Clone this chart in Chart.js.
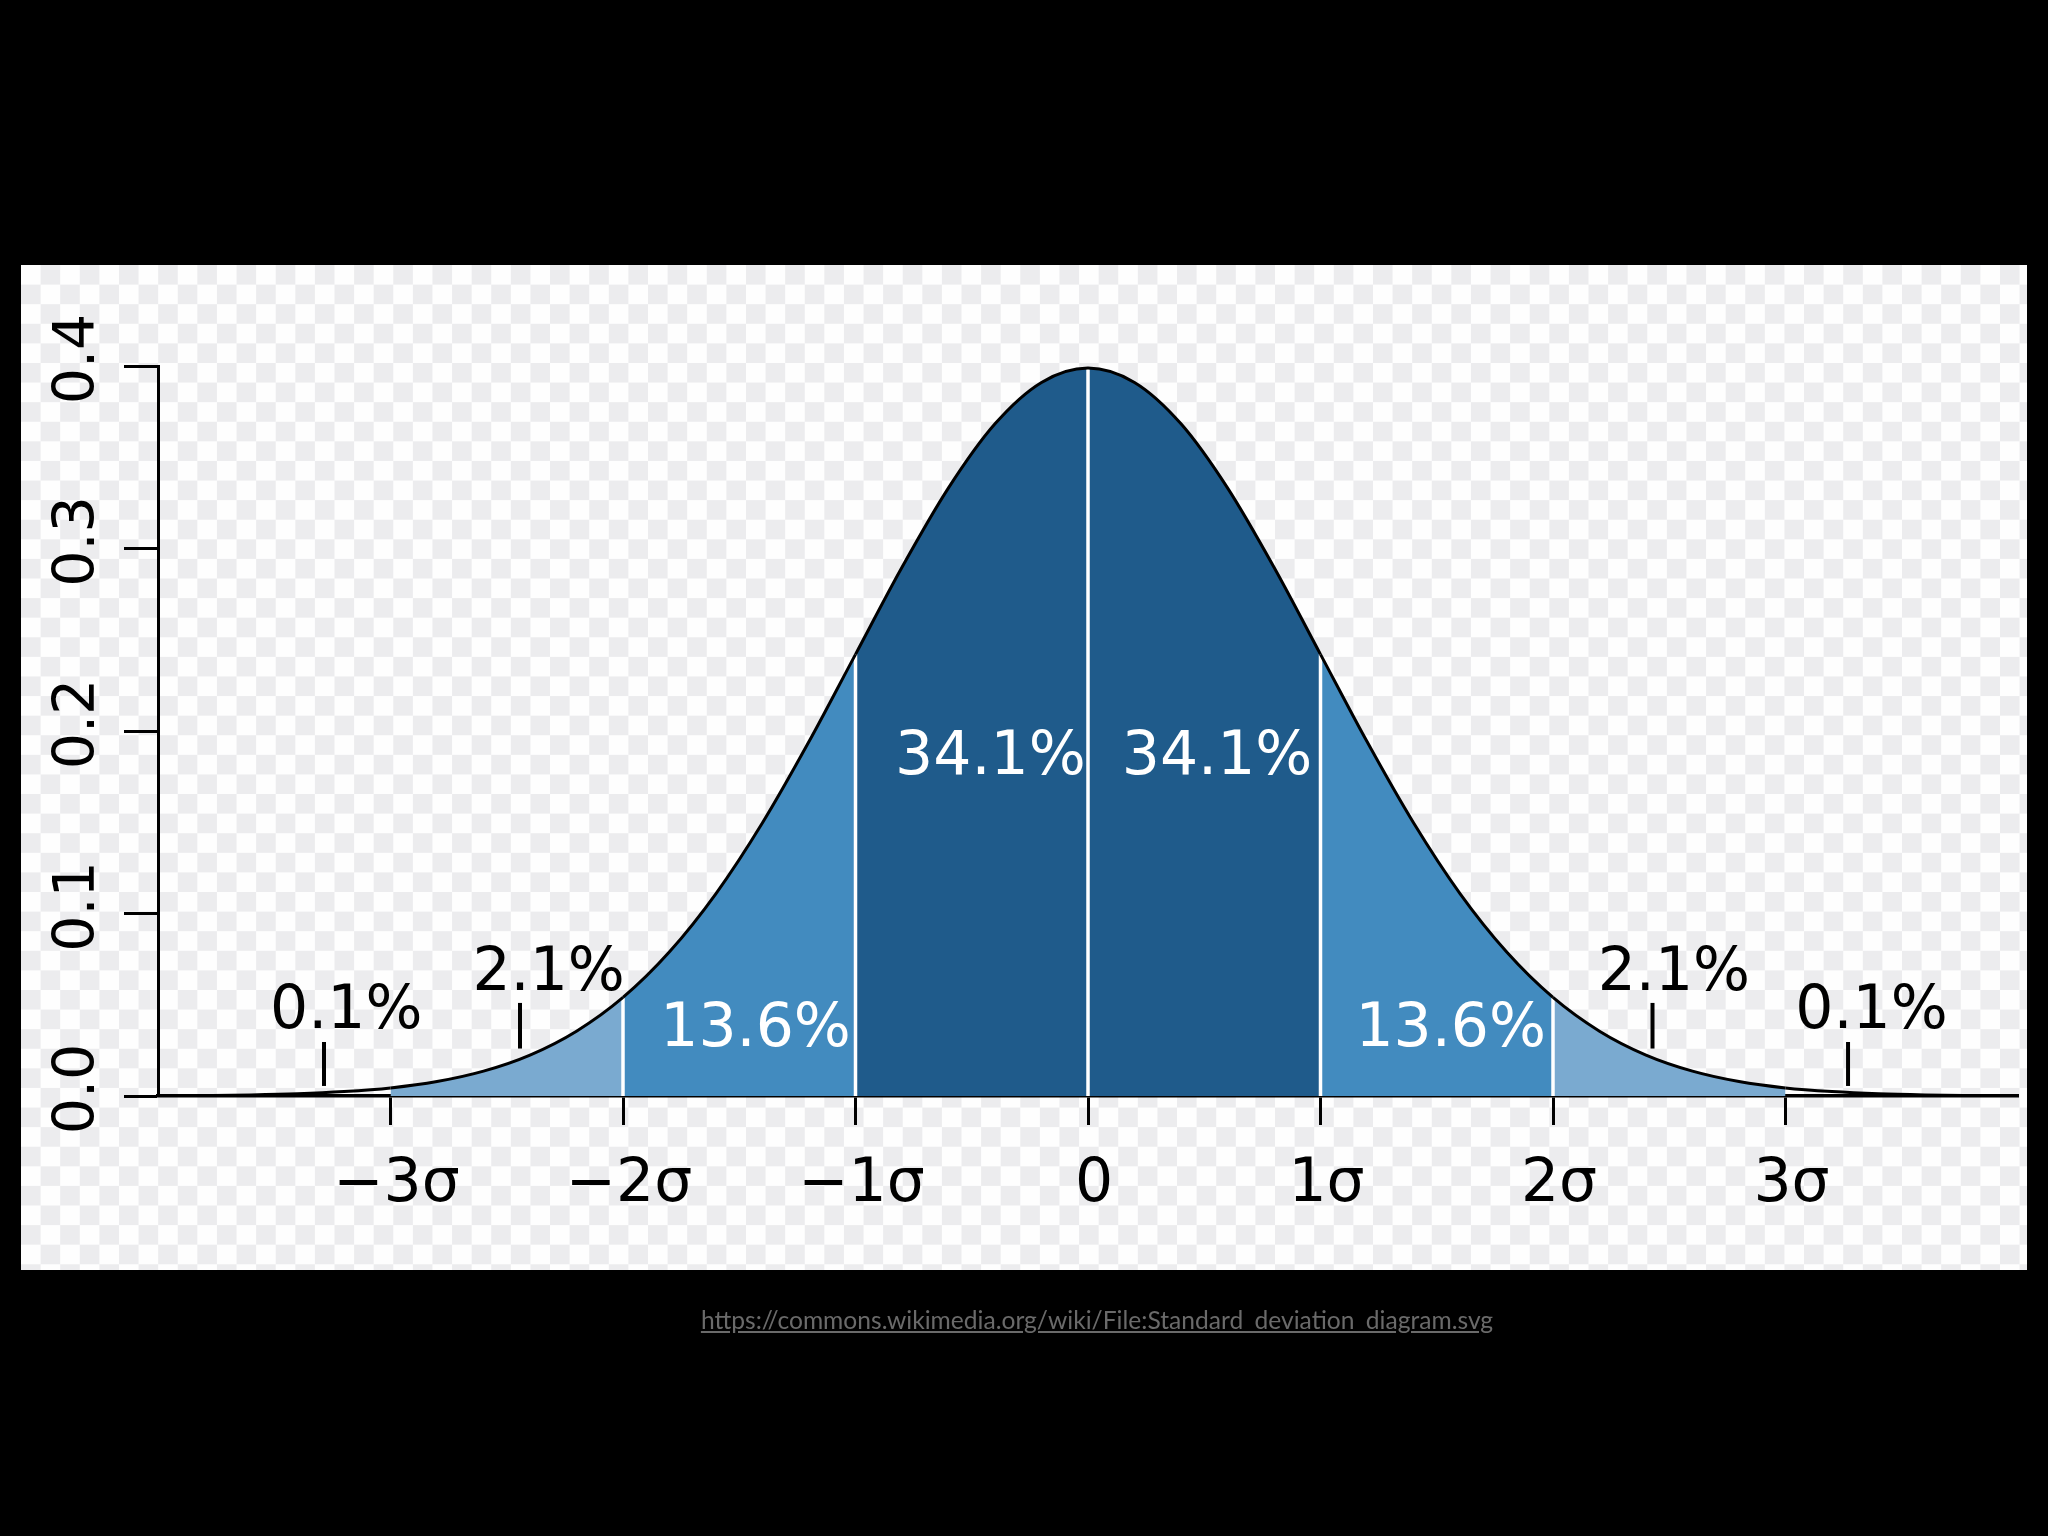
<!DOCTYPE html>
<html>
<head>
<meta charset="utf-8">
<script src="https://cdn.jsdelivr.net/npm/chart.js@4.4.1/dist/chart.umd.min.js"></script>
<style>
  html, body { margin: 0; padding: 0; background: #000; }
  body { width: 2048px; height: 1536px; position: relative; overflow: hidden; }
  #panel {
    position: absolute; left: 21px; top: 265px; width: 2006px; height: 1005px;
    background-color: #fefefe;
    background-image: repeating-conic-gradient(#ececee 0% 25%, #fefefe 0% 50%);
    background-size: 39.2px 39.2px;
  }
  #chart { position: absolute; left: 0; top: 0; }
  #src {
    position: absolute; left: 73px; width: 2048px; top: 1305px; text-align: center;
    font-family: Lato, "Open Sans", sans-serif; font-size: 24.6px; color: #6a6a6a;
    text-decoration: underline;
  }
</style>
</head>
<body>
<div id="panel"></div>
<canvas id="chart" width="2048" height="1536"></canvas>
<div id="src">https://commons.wikimedia.org/wiki/File:Standard_deviation_diagram.svg</div>
<script>
// curve (x in sigma units, density)
const xValues = [-4, -3.8, -3.6, -3.4, -3.2, -3, -2.8, -2.6, -2.4, -2.2, -2, -1.8, -1.6, -1.4, -1.2, -1,
  -0.8, -0.6, -0.4, -0.2, 0, 0.2, 0.4, 0.6, 0.8, 1, 1.2, 1.4, 1.6, 1.8, 2, 2.2, 2.4, 2.6, 2.8, 3,
  3.2, 3.4, 3.6, 3.8, 4];
const density = [0.0001, 0.0003, 0.0006, 0.0012, 0.0024, 0.0044, 0.0079, 0.0136, 0.0224, 0.0355, 0.054,
  0.079, 0.1109, 0.1497, 0.1942, 0.242, 0.2897, 0.3332, 0.3683, 0.391, 0.3989, 0.391, 0.3683, 0.3332,
  0.2897, 0.242, 0.1942, 0.1497, 0.1109, 0.079, 0.054, 0.0355, 0.0224, 0.0136, 0.0079, 0.0044, 0.0024,
  0.0012, 0.0006, 0.0003, 0.0001];

const bandEdges = [-2, -1, 0, 1, 2];

const xTickValues = [-3, -2, -1, 0, 1, 2, 3];
const xTickLabels = ['\u22123\u03c3', '\u22122\u03c3', '\u22121\u03c3', '0', '1\u03c3', '2\u03c3', '3\u03c3'];
const yTickValues = [0, 0.1, 0.2, 0.3, 0.4];
const yTickLabels = ['0.0', '0.1', '0.2', '0.3', '0.4'];

// percentage annotations: text, x centre, baseline
const pctLabels = ['0.1%', '2.1%', '13.6%', '34.1%', '34.1%', '13.6%', '2.1%', '0.1%'];
const pctX = [-3.19, -2.32, -1.43, -0.42, 0.555, 1.56, 2.52, 3.37];
const pctY = [0.0373, 0.058, 0.0274, 0.1764, 0.1764, 0.0274, 0.058, 0.0373];

// little pointer lines under the outer labels
const markerX = [-3.286, -2.443, 2.428, 3.269];
const markerLow = [0.0055, 0.026, 0.026, 0.0055];
const markerHigh = [0.0296, 0.051, 0.051, 0.0296];

const bandColors = ['#1f5b8b', '#428bbf', '#7aaad0'];
const pctColors = ['#000', '#000', '#fff', '#fff', '#fff', '#fff', '#000', '#000'];

function bandColor(ctx) {
  const mid = Math.abs((ctx.p0.parsed.x + ctx.p1.parsed.x) / 2);
  const i = Math.floor(mid);
  return i < 3 ? bandColors[i] : 'rgba(0,0,0,0)';
}

const datasets = [{
  data: xValues.map((x, i) => ({ x: x, y: density[i] })),
  borderColor: '#000',
  borderWidth: 3,
  backgroundColor: bandColors[0],
  fill: 'origin',
  segment: { backgroundColor: bandColor },
  cubicInterpolationMode: 'monotone',
  pointRadius: 0,
  order: 0
}];

bandEdges.forEach(e => {
  datasets.push({
    data: [{ x: e, y: 0 }, { x: e, y: density[xValues.indexOf(e)] }],
    borderColor: '#fff',
    borderWidth: 3.5,
    fill: false,
    pointRadius: 0,
    order: 1
  });
});

markerX.forEach((m, i) => {
  datasets.push({
    data: [{ x: m, y: markerLow[i] }, { x: m, y: markerHigh[i] }],
    borderColor: '#000',
    borderWidth: 4,
    fill: false,
    pointRadius: 0,
    order: 1
  });
});

const textPlugin = {
  id: 'textPlugin',
  afterDraw(chart) {
    const { ctx, scales: { x, y } } = chart;
    ctx.save();
    ctx.fillStyle = '#000';
    ctx.font = '57px "DejaVu Sans"';
    ctx.textAlign = 'center';
    ctx.textBaseline = 'alphabetic';
    yTickValues.forEach((v, i) => {
      ctx.save();
      ctx.translate(y.right - 64, y.getPixelForValue(v) - 7);
      ctx.rotate(-Math.PI / 2);
      ctx.fillText(yTickLabels[i], 0, 0);
      ctx.restore();
    });

    ctx.font = '60px "DejaVu Sans"';
    pctLabels.forEach((t, i) => {
      ctx.fillStyle = pctColors[i];
      ctx.fillText(t, x.getPixelForValue(pctX[i]), y.getPixelForValue(pctY[i]));
    });
    ctx.restore();
  }
};

new Chart(document.getElementById('chart'), {
  type: 'line',
  data: { datasets: datasets },
  options: {
    responsive: false,
    devicePixelRatio: 1,
    animation: false,
    layout: { padding: { left: 40, right: 30, top: 366, bottom: 290 } },
    plugins: {
      legend: { display: false },
      tooltip: { enabled: false },
      filler: { drawTime: 'beforeDatasetsDraw' }
    },
    scales: {
      x: {
        type: 'linear',
        min: -4,
        max: 4,
        afterBuildTicks: s => { s.ticks = xTickValues.map(v => ({ value: v })); },
        afterFit: s => { s.height = 150; },
        ticks: {
          callback: (v, i) => xTickLabels[i],
          font: { family: 'DejaVu Sans', size: 60, lineHeight: 1 },
          color: '#000',
          padding: 30,
          labelOffset: 6,
          maxRotation: 0,
          autoSkip: false
        },
        grid: { drawOnChartArea: false, tickLength: 29, tickWidth: 3, tickColor: '#000' },
        border: { color: '#000', width: 3.5 }
      },
      y: {
        type: 'linear',
        min: 0,
        max: 0.4,
        afterBuildTicks: s => { s.ticks = yTickValues.map(v => ({ value: v })); },
        afterFit: s => { s.width = 118; },
        ticks: { display: false },
        grid: { drawOnChartArea: false, tickLength: 34, tickWidth: 3, tickColor: '#000' },
        border: { color: '#000', width: 3 }
      }
    }
  },
  plugins: [textPlugin]
});
</script>
</body>
</html>
